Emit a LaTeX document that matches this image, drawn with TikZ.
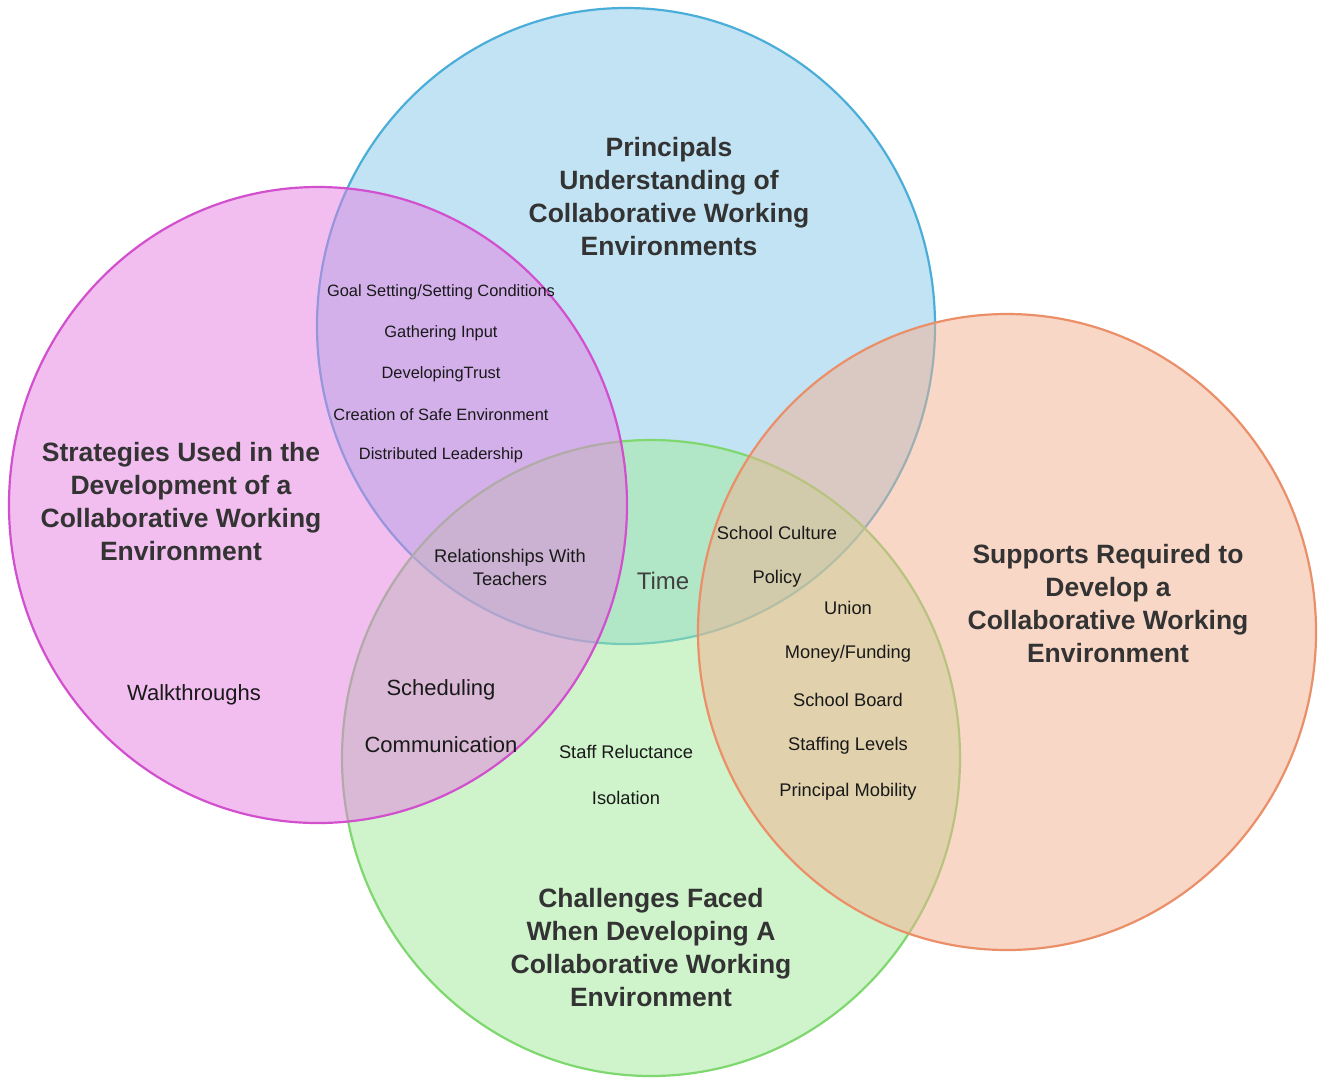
\documentclass[tikz,border=0pt]{standalone}
\usepackage{fontspec}
\setmainfont{Liberation Sans}
\definecolor{blueset}{RGB}{135,201,235}
\definecolor{pinkset}{RGB}{229,127,225}
\definecolor{greenset}{RGB}{161,235,153}
\definecolor{orangeset}{RGB}{243,177,145}
\definecolor{blueline}{RGB}{74,174,217}
\definecolor{pinkline}{RGB}{210,79,206}
\definecolor{greenline}{RGB}{126,215,111}
\definecolor{orangeline}{RGB}{234,143,104}
\definecolor{headtext}{RGB}{51,51,51}
\tikzset{
  setshape/.style={line width=2.2pt,fill opacity=0.5},
  heading/.style={align=center,text=headtext,font=\bfseries\fontsize{26.5}{33}\selectfont},
  itemsmall/.style={text=black!90,font=\fontsize{16.4}{20}\selectfont},
  itemmid/.style={text=black!90,font=\fontsize{18.3}{23}\selectfont,align=center},
  itembig/.style={text=black!90,font=\fontsize{22}{26}\selectfont}
}
\begin{document}
\begin{tikzpicture}[x=1pt,y=-1pt]
	\useasboundingbox[fill=white] (0,0) rectangle (1321,1080);
	% the four sets
	\draw[setshape,draw=blueline,fill=blueset] (626,326) circle [x radius=309,y radius=318];
	\draw[setshape,draw=greenline,fill=greenset] (651,758) circle [x radius=309,y radius=318];
	\draw[setshape,draw=orangeline,fill=orangeset] (1007,632) circle [x radius=309,y radius=318];
	\draw[setshape,draw=pinkline,fill=pinkset] (318,505) circle [x radius=309,y radius=318];
	% headings
	\node[heading] (principals) at (669,197) {Principals\\Understanding of\\Collaborative Working\\Environments};
	\node[heading] (strategies) at (181,502) {Strategies Used in the\\Development of a\\Collaborative Working\\Environment};
	\node[heading] (supports) at (1108,604) {Supports Required to\\Develop a\\Collaborative Working\\Environment};
	\node[heading] (challenges) at (651,948) {Challenges Faced\\When Developing A\\Collaborative Working\\Environment};
	% principals and strategies
	\foreach \t [count=\i] in {Goal Setting/Setting Conditions,Gathering Input,DevelopingTrust,Creation of Safe Environment,Distributed Leadership}
		\node[itemsmall] (lead\i) at (441,252+40.7*\i) {\t};
	\node[itemmid] (relations) at (510,567.5) {Relationships With\\Teachers};
	\node[itembig,text=black!75,font=\fontsize{24}{28}\selectfont] (time) at (663,580.5) {Time};
	% principals and supports
	\node[itemmid] (culture) at (777,532.5) {School Culture};
	\node[itemmid] (policy) at (777,579) {Policy};
	% challenges and supports
	\foreach \t [count=\i] in {Union,Money/Funding,School Board,Staffing Levels,Principal Mobility}
		\node[itemmid] (support\i) at (848,561.5+46*\i) {\t};
	% strategies only, strategies and challenges, challenges only
	\node[itembig] (walk) at (194,695) {Walkthroughs};
	\node[itembig] (sched) at (441,690) {Scheduling};
	\node[itembig] (comm) at (441,745) {Communication};
	\node[itemmid] (reluct) at (626,751.5) {Staff Reluctance};
	\node[itemmid] (isol) at (626,797.5) {Isolation};
\end{tikzpicture}
\end{document}
